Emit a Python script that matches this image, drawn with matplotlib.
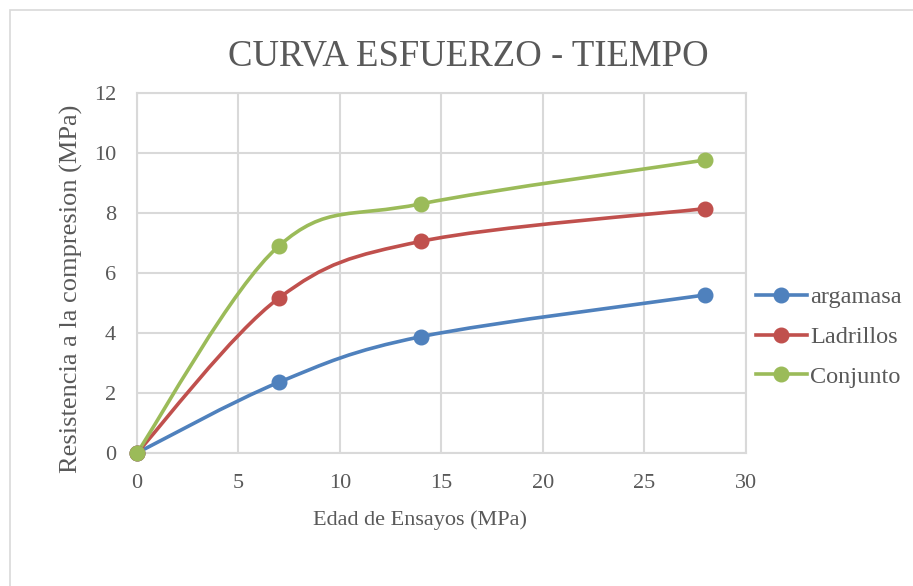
import matplotlib
matplotlib.use("Agg")
import matplotlib.pyplot as plt
from matplotlib.path import Path
from matplotlib.patches import PathPatch, Rectangle
from matplotlib.lines import Line2D

# data
edad = [0, 7, 14, 28]
series_names = ["argamasa", "Ladrillos", "Conjunto"]
argamasa = [0, 2.36, 3.88, 5.27]
ladrillos = [0, 5.17, 7.06, 8.15]
conjunto = [0, 6.91, 8.31, 9.77]
colors = ["#4F81BD", "#C0504D", "#9BBB59"]

plt.rcParams["font.family"] = ["Liberation Serif", "DejaVu Serif"]
TXT = "#595959"
GRID = "#D9D9D9"


def smooth_path(xs, ys):
    # Excel-style smoothed line: cubic bezier, tangent = (P[i+1]-P[i-1])/6
    pts = list(zip(xs, ys))
    n = len(pts)
    verts = [pts[0]]
    codes = [Path.MOVETO]
    for i in range(n - 1):
        p0 = pts[max(i - 1, 0)]
        p1 = pts[i]
        p2 = pts[i + 1]
        p3 = pts[min(i + 2, n - 1)]
        c1 = (p1[0] + (p2[0] - p0[0]) / 6, p1[1] + (p2[1] - p0[1]) / 6)
        c2 = (p2[0] - (p3[0] - p1[0]) / 6, p2[1] - (p3[1] - p1[1]) / 6)
        verts += [c1, c2, p2]
        codes += [Path.CURVE4] * 3
    return Path(verts, codes)


fig = plt.figure(figsize=(9.13, 5.86), dpi=100)
ax = fig.add_axes([0.150, 0.227, 0.667, 0.614])

# outer chart border
fig.patches.append(Rectangle((10 / 913, -0.1), 1.2, 1 - 10 / 586 + 0.1,
                             transform=fig.transFigure, fill=False,
                             edgecolor=GRID, linewidth=1.2))

handles = []
for name, vals, c in zip(series_names, [argamasa, ladrillos, conjunto], colors):
    ax.add_patch(PathPatch(smooth_path(edad, vals), fill=False, edgecolor=c,
                           linewidth=2.6, capstyle="round", zorder=3))
    ax.plot(edad, vals, linestyle="none", marker="o", markersize=10.5,
            color=c, zorder=4, clip_on=False)
    handles.append(Line2D([], [], color=c, linewidth=2.6, marker="o",
                          markersize=10.5, label=name))

ax.set_xlim(0, 30)
ax.set_ylim(0, 12)
ax.set_xticks(range(0, 31, 5))
ax.set_yticks(range(0, 13, 2))
ax.grid(True, color=GRID, linewidth=1.5)
ax.set_axisbelow(True)
for s in ax.spines.values():
    s.set_color(GRID)
    s.set_linewidth(1.5)
ax.tick_params(length=0, labelsize=16, labelcolor=TXT)
ax.tick_params(axis="x", pad=15)
ax.tick_params(axis="y", pad=15)

ax.set_xlabel("Edad de Ensayos (MPa)", fontsize=16, color=TXT)
ax.xaxis.set_label_coords(0.465, -0.158)
ax.set_ylabel("Resistencia a la compresion (MPa)", fontsize=19, color=TXT)
ax.yaxis.set_label_coords(-0.089, 0.456)

fig.text(468 / 913, 1 - 65 / 586, "CURVA ESFUERZO - TIEMPO", fontsize=26.5,
         color=TXT, ha="center", va="baseline")

fig.legend(handles=handles, loc="center left",
           bbox_to_anchor=(746 / 913, 1 - 337 / 586), frameon=False,
           fontsize=17.5, labelcolor=TXT, handlelength=2.1, handletextpad=0.15,
           labelspacing=0.72, borderaxespad=0)

fig.savefig("out.png", dpi=100)
